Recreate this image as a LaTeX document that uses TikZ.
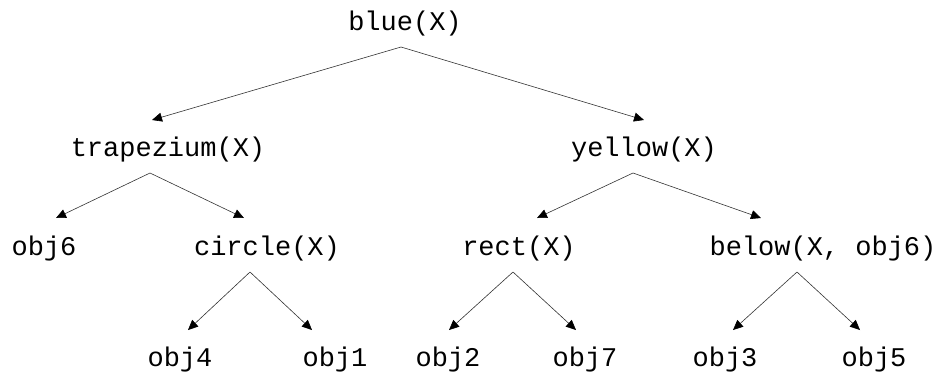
\documentclass[tikz,border=0pt]{standalone}
\usepackage{fontspec}
\setmonofont{Liberation Mono}
\usetikzlibrary{arrows.meta}
\begin{document}
\begin{tikzpicture}[x=1pt,y=-1pt,
  term/.style={font=\ttfamily\fontsize{27}{27}\selectfont, anchor=base, inner sep=0pt},
  edge/.style={draw=black!80, line width=0.6pt, -{Triangle[length=10pt,width=9pt,fill=black,color=black]}}]
\useasboundingbox (0,0) rectangle (943,376);

% terms of the derivation tree
\node[term] (blue)   at (405,30)  {blue(X)};
\node[term] (trap)   at (168,156) {trapezium(X)};
\node[term] (yellow) at (644,156) {yellow(X)};
\node[term] (objsix) at (44,255)  {obj6};
\node[term] (circ)   at (267,255) {circle(X)};
\node[term] (rect)   at (519,255) {rect(X)};
\node[term] (below)  at (823,255) {below(X, obj6)};
\node[term] (objfour)  at (180,366) {obj4};
\node[term] (objone)   at (335,366) {obj1};
\node[term] (objtwo)   at (448,366) {obj2};
\node[term] (objseven) at (585,366) {obj7};
\node[term] (objthree) at (725,366) {obj3};
\node[term] (objfive)  at (874,366) {obj5};

% branching points below each parent and arrow ends above each child
\coordinate (blue-out)   at (401,47);
\coordinate (trap-in)    at (152,120);
\coordinate (yellow-in)  at (644,120);
\coordinate (trap-out)   at (150,173);
\coordinate (objsix-in)  at (56,218);
\coordinate (circ-in)    at (244,218);
\coordinate (yellow-out) at (633,173);
\coordinate (rect-in)    at (537,218);
\coordinate (below-in)   at (761,218);
\coordinate (circ-out)   at (250,272);
\coordinate (objfour-in) at (188,330);
\coordinate (objone-in)  at (312,330);
\coordinate (rect-out)   at (513,272);
\coordinate (objtwo-in)  at (449,330);
\coordinate (objseven-in) at (576,330);
\coordinate (below-out)  at (797,272);
\coordinate (objthree-in) at (733,330);
\coordinate (objfive-in) at (860,330);

\draw[edge] (blue-out) -- (trap-in);
\draw[edge] (blue-out) -- (yellow-in);
\draw[edge] (trap-out) -- (objsix-in);
\draw[edge] (trap-out) -- (circ-in);
\draw[edge] (yellow-out) -- (rect-in);
\draw[edge] (yellow-out) -- (below-in);
\draw[edge] (circ-out) -- (objfour-in);
\draw[edge] (circ-out) -- (objone-in);
\draw[edge] (rect-out) -- (objtwo-in);
\draw[edge] (rect-out) -- (objseven-in);
\draw[edge] (below-out) -- (objthree-in);
\draw[edge] (below-out) -- (objfive-in);
\end{tikzpicture}
\end{document}
